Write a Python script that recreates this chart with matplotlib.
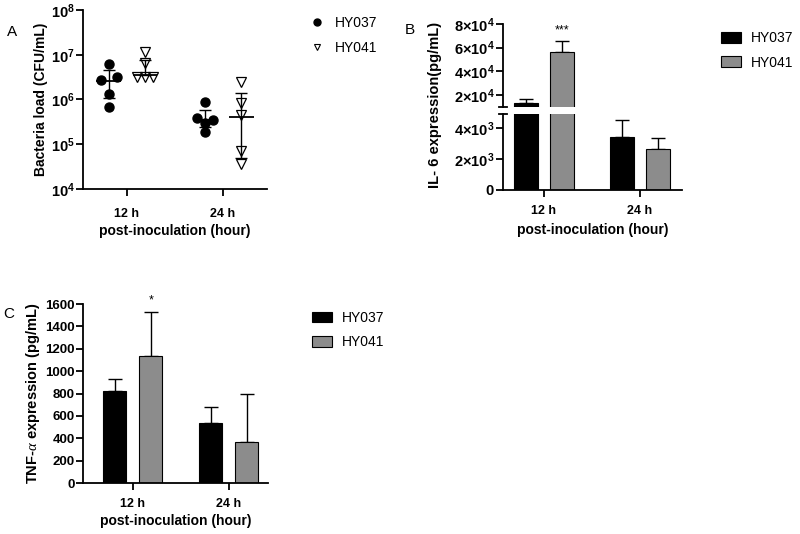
import numpy as np
import matplotlib
matplotlib.use("Agg")
import matplotlib.pyplot as plt
from matplotlib.lines import Line2D
from matplotlib.patches import Patch

plt.rcParams['font.family'] = ['Liberation Sans', 'DejaVu Sans']
plt.rcParams['mathtext.fontset'] = 'custom'
plt.rcParams['mathtext.rm'] = 'Liberation Sans:bold'
plt.rcParams['mathtext.bf'] = 'Liberation Sans:bold'
plt.rcParams['mathtext.it'] = 'Liberation Serif:italic'

groups = ["12 h", "24 h"]
strains = ["HY037", "HY041"]

# panel A: bacteria load, individual animals (CFU/mL)
a_hy037_12 = [6.1e6, 2.7e6, 3.25e6, 1.3e6, 6.9e5]
a_hy037_24 = [8.6e5, 3.8e5, 3.0e5, 3.5e5, 1.9e5]
a_hy041_12 = [1.13e7, 6.5e6, 3.24e6, 3.24e6, 3.24e6]
a_hy041_24 = [2.5e6, 8.2e5, 4.5e5, 7.1e4, 3.7e4]
a_hy037_mean = [2.6e6, 3.5e5]
a_hy037_lo = [1.06e6, 2.4e5]
a_hy037_hi = [4.6e6, 5.8e5]
a_hy041_mean = [3.5e6, 4.1e5]
a_hy041_lo = [3.5e6, 4.9e4]
a_hy041_hi = [7.6e6, 1.4e6]
a_ticks = [1e4, 1e5, 1e6, 1e7, 1e8]
a_ticklabels = [r'$\mathbf{10^{4}}$', r'$\mathbf{10^{5}}$', r'$\mathbf{10^{6}}$',
                r'$\mathbf{10^{7}}$', r'$\mathbf{10^{8}}$']

# panel B: IL-6 (pg/mL)
b_hy037 = [1.3e4, 3400]
b_hy037_err = [3.6e3, 1150]
b_hy041 = [5.6e4, 2650]
b_hy041_err = [1.0e4, 700]
b_hi_ticks = [2e4, 4e4, 6e4, 8e4]
b_hi_labels = [r'$\mathbf{2{\times}10^{4}}$', r'$\mathbf{4{\times}10^{4}}$',
               r'$\mathbf{6{\times}10^{4}}$', r'$\mathbf{8{\times}10^{4}}$']
b_lo_ticks = [0, 2000, 4000]
b_lo_labels = [r'$\mathbf{0}$', r'$\mathbf{2{\times}10^{3}}$', r'$\mathbf{4{\times}10^{3}}$']

# panel C: TNF-alpha (pg/mL)
c_hy037 = [824, 535]
c_hy037_err = [104, 140]
c_hy041 = [1133, 366]
c_hy041_err = [393, 431]
c_ticks = [0, 200, 400, 600, 800, 1000, 1200, 1400, 1600]

# jitter slots for the scatter (in marker widths)
j037_12 = [0, -1, 1, 0, 0]
j037_24 = [0, -1, 0, 1, 0]
j041_12 = [0, 0, -1, 0, 1]
j041_24 = [0, 0, 0, 0, 0]

gray = '#8c8c8c'
lw = 1.3
tick_fs = 9
lab_fs = 10
off = 0.1875
bw = 0.24

fig = plt.figure(figsize=(8, 5.34), dpi=100)


def style(ax, bottom=True, xpad=6):
    for s in ['top', 'right']:
        ax.spines[s].set_visible(False)
    ax.spines['left'].set_linewidth(lw)
    ax.spines['bottom'].set_linewidth(lw)
    if not bottom:
        ax.spines['bottom'].set_visible(False)
    ax.tick_params(which='major', direction='out', length=5, width=lw, labelsize=tick_fs)
    ax.tick_params(axis='y', pad=1)
    ax.tick_params(axis='x', pad=xpad)


# ---------------- panel A ----------------
axA = fig.add_axes([0.10375, 0.6461, 0.23, 0.3352])
style(axA, xpad=8.5)
x = np.arange(len(groups))
sp = 0.087
for i, (pts, jit) in enumerate([(a_hy037_12, j037_12), (a_hy037_24, j037_24)]):
    axA.plot(x[i] - off + np.array(jit) * sp, pts, 'o', color='black', ms=6.5, zorder=3)
for i, (pts, jit) in enumerate([(a_hy041_12, j041_12), (a_hy041_24, j041_24)]):
    axA.plot(x[i] + off + np.array(jit) * sp, pts, 'v', mfc='none', mec='black',
             mew=0.9, ms=6.5, zorder=3)
for sgn, m, lo, hi in [(-1, a_hy037_mean, a_hy037_lo, a_hy037_hi),
                       (1, a_hy041_mean, a_hy041_lo, a_hy041_hi)]:
    m = np.array(m)
    yerr = [m - np.array(lo), np.array(hi) - m]
    axA.errorbar(x + sgn * off, m, yerr=yerr, fmt='none', ecolor='black',
                 elinewidth=1.0, capsize=4.3, capthick=1.0, zorder=2)
    axA.hlines(m, x + sgn * off - 0.13, x + sgn * off + 0.13, color='black', lw=1.3, zorder=2)
axA.set_yscale('log')
axA.set_ylim(1e4, 1e8)
axA.set_yticks(a_ticks)
axA.set_yticklabels(a_ticklabels, fontsize=10.5)
axA.minorticks_off()
axA.set_xlim(-0.458, 1.458)
axA.set_xticks(x)
axA.set_xticklabels(groups, fontweight='bold')
axA.set_ylabel('Bacteria load (CFU/mL)', fontsize=lab_fs, fontweight='bold', labelpad=2)
axA.set_xlabel('post-inoculation (hour)', fontsize=lab_fs, fontweight='bold', labelpad=3)

hA = [Line2D([], [], marker='o', color='black', ls='none', ms=5),
      Line2D([], [], marker='v', mfc='none', mec='black', mew=0.8, ls='none', ms=5)]
fig.legend(hA, strains, loc='upper left', bbox_to_anchor=(0.37, 0.993), frameon=False,
           fontsize=10, handlelength=1.2, handletextpad=0.7, labelspacing=0.75)

# ---------------- panel B ----------------
axBh = fig.add_axes([0.62875, 0.8002, 0.22375, 0.1549])
axBl = fig.add_axes([0.62875, 0.6442, 0.22375, 0.1418])
style(axBh, bottom=False)
style(axBl)
for ax in [axBh, axBl]:
    ax.bar(x - off, b_hy037, bw, color='black', edgecolor='black', lw=0.8, zorder=2)
    ax.bar(x + off, b_hy041, bw, color=gray, edgecolor='black', lw=0.8, zorder=2)
    ax.errorbar(x - off, b_hy037, yerr=[[0, 0], b_hy037_err], fmt='none', ecolor='black',
                elinewidth=1.0, capsize=4.7, capthick=1.0, zorder=1)
    ax.errorbar(x + off, b_hy041, yerr=[[0, 0], b_hy041_err], fmt='none', ecolor='black',
                elinewidth=1.0, capsize=4.7, capthick=1.0, zorder=1)
    ax.set_xlim(-0.427, 1.4375)
axBh.set_ylim(1e4, 8e4)
axBh.set_yticks(b_hi_ticks)
axBh.set_yticklabels(b_hi_labels, fontsize=10.5)
axBh.set_xticks([])
axBl.set_ylim(0, 4900)
axBl.set_yticks(b_lo_ticks)
axBl.set_yticklabels(b_lo_labels, fontsize=10.5)
axBl.set_xticks(x)
axBl.set_xticklabels(groups, fontweight='bold')
axBl.set_xlabel('post-inoculation (hour)', fontsize=lab_fs, fontweight='bold', labelpad=4)
# break marks
for ax, yy in [(axBh, 0), (axBl, 1)]:
    ax.plot([-0.022, 0.022], [yy, yy], transform=ax.transAxes, color='black',
            lw=lw, clip_on=False)
axBh.annotate('***', (x[0] + off, b_hy041[0] + b_hy041_err[0]), xytext=(0, 3),
              textcoords='offset points', ha='center', va='bottom', fontsize=9)
fig.text(0.544, 0.803, 'IL- 6 expression(pg/mL)', rotation=90, ha='center', va='center',
         fontsize=10.5, fontweight='bold')

hB = [Patch(facecolor='black', edgecolor='black', lw=0.8),
      Patch(facecolor=gray, edgecolor='black', lw=0.8)]
fig.legend(hB, strains, loc='upper left', bbox_to_anchor=(0.886, 0.965), frameon=False,
           fontsize=10, handlelength=1.45, handleheight=0.8, handletextpad=0.7,
           labelspacing=0.75)

# ---------------- panel C ----------------
axC = fig.add_axes([0.10375, 0.0955, 0.231, 0.3352])
style(axC)
axC.bar(x - off, c_hy037, bw, color='black', edgecolor='black', lw=0.8, zorder=2)
axC.bar(x + off, c_hy041, bw, color=gray, edgecolor='black', lw=0.8, zorder=2)
axC.errorbar(x - off, c_hy037, yerr=[[0, 0], c_hy037_err], fmt='none', ecolor='black',
             elinewidth=1.0, capsize=4.7, capthick=1.0, zorder=1)
axC.errorbar(x + off, c_hy041, yerr=[[0, 0], c_hy041_err], fmt='none', ecolor='black',
             elinewidth=1.0, capsize=4.7, capthick=1.0, zorder=1)
axC.set_ylim(0, 1600)
axC.set_yticks(c_ticks)
axC.set_yticklabels([str(v) for v in c_ticks], fontweight='bold', fontsize=9.5)
axC.set_xlim(-0.521, 1.406)
axC.set_xticks(x)
axC.set_xticklabels(groups, fontweight='bold')
axC.set_ylabel(r'TNF-$\alpha$ expression (pg/mL)', fontsize=10.5, fontweight='bold', labelpad=2)
axC.set_xlabel('post-inoculation (hour)', fontsize=lab_fs, fontweight='bold', labelpad=3)
axC.annotate('*', (x[0] + off, c_hy041[0] + c_hy041_err[0]), xytext=(0, 4),
             textcoords='offset points', ha='center', va='bottom', fontsize=9)

fig.legend(hB, strains, loc='upper left', bbox_to_anchor=(0.374, 0.441), frameon=False,
           fontsize=10, handlelength=1.45, handleheight=0.8, handletextpad=0.7,
           labelspacing=0.75)

# panel letters
fig.text(0.009, 0.932, 'A', fontsize=11)
fig.text(0.506, 0.937, 'B', fontsize=11)
fig.text(0.004, 0.405, 'C', fontsize=11)

fig.savefig('out.png', dpi=100)
